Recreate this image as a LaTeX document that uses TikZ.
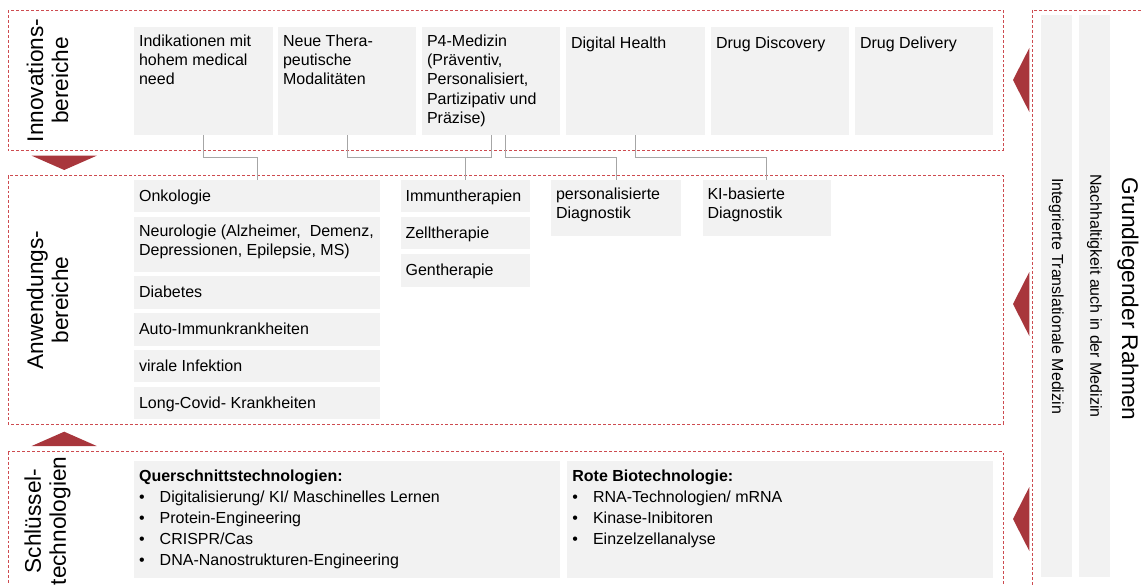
\documentclass[tikz,border=0pt]{standalone}
\usepackage{fontspec}
\setmainfont{Liberation Sans}
\usetikzlibrary{fit}

\definecolor{rotlinie}{RGB}{205,75,80}
\definecolor{rotpfeil}{RGB}{168,54,60}
\definecolor{kastengrau}{RGB}{242,242,242}
\definecolor{linie}{RGB}{166,166,166}

\newcommand{\punkt}{\makebox[15.5pt][l]{\textbullet}}

\tikzset{
  rahmen/.style={draw=rotlinie, line width=0.6pt, dash pattern=on 2.2pt off 1.5pt},
  kasten/.style={fill=kastengrau, inner sep=0pt},
  txt/.style={anchor=north west, align=left, inner xsep=3.8pt, inner ysep=5.9pt,
    font=\fontsize{12}{14.4}\selectfont, execute at begin node=\strut},
  liste/.style={txt, inner ysep=7pt, font=\fontsize{12}{15.7}\selectfont},
  titel/.style={rotate=90, align=center, font=\fontsize{17}{18.75}\selectfont},
  verb/.style={draw=linie, line width=0.75pt},
  pfeil/.style={fill=rotpfeil}
}

\begin{document}
\begin{tikzpicture}[x=0.75pt, y=-0.75pt]
    \clip (0,0) rectangle (1142,585);

    % drei Ebenen und der Rahmen rechts
    \draw[rahmen] (8,10.5) rectangle (1003,150.7);
    \draw[rahmen] (8,175.7) rectangle (1003,424);
    \draw[rahmen] (8,451.7) rectangle (1003,590);
    \draw[rahmen] (1032.3,10) rectangle (1160,600);

    \node[titel] (t-innov) at (47.5,80.5) {Innovations-\\bereiche};
    \node[titel] (t-anw) at (47.5,300) {Anwendungs-\\bereiche};
    \node[titel] (t-schl) at (47.5,521) {Schlüssel-\\technologien};

    \fill[pfeil] (31.7,155.7) -- (96.7,155.7) -- (64.2,170) -- cycle;
    \fill[pfeil] (31.7,446) -- (96.7,446) -- (64.2,431.7) -- cycle;
    \foreach \y in {80,304,519}
        \fill[pfeil] (1013,\y) -- (1029.3,\y-32) -- (1029.3,\y+32) -- cycle;

    % Innovationsbereiche
    \node[kasten, fit={(134,27) (272.5,135)}] (indik) {};
    \node[txt] (indik-t) at (indik.north west) {Indikationen mit\\hohem medical\\need};
    \node[kasten, fit={(278,27) (416,135)}] (neue) {};
    \node[txt] (neue-t) at (neue.north west) {Neue Thera-\\peutische\\Modalitäten};
    \node[kasten, fit={(422,27) (560,135)}] (pvier) {};
    \node[txt] (pvier-t) at (pvier.north west) {P4-Medizin\\(Präventiv,\\Personalisiert,\\Partizipativ und\\Präzise)};
    \node[kasten, fit={(566,27) (705,135)}] (digital) {};
    \node[txt] (digital-t) at (digital.north west) {Digital Health};
    \node[kasten, fit={(711,27) (849,135)}] (discov) {};
    \node[txt] (discov-t) at (discov.north west) {Drug Discovery};
    \node[kasten, fit={(855,27) (993,135)}] (deliv) {};
    \node[txt] (deliv-t) at (deliv.north west) {Drug Delivery};

    % Anwendungsbereiche
    \node[kasten, fit={(134,180) (380,212.3)}] (onko) {};
    \node[txt] (onko-t) at (onko.north west) {Onkologie};
    \node[kasten, fit={(134,217) (380,271.7)}] (neuro) {};
    \node[txt] (neuro-t) at (neuro.north west) {Neurologie (Alzheimer,~ Demenz,\\Depressionen, Epilepsie, MS)};
    \node[kasten, fit={(134,276.3) (380,308.7)}] (diab) {};
    \node[txt] (diab-t) at (diab.north west) {Diabetes};
    \node[kasten, fit={(134,313.3) (380,345.7)}] (auto) {};
    \node[txt] (auto-t) at (auto.north west) {Auto-Immunkrankheiten};
    \node[kasten, fit={(134,350) (380,382.3)}] (viral) {};
    \node[txt] (viral-t) at (viral.north west) {virale Infektion};
    \node[kasten, fit={(134,386.7) (380,418.7)}] (covid) {};
    \node[txt] (covid-t) at (covid.north west) {Long-Covid- Krankheiten};

    \node[kasten, fit={(400.5,180) (530,212.3)}] (immun) {};
    \node[txt] (immun-t) at (immun.north west) {Immuntherapien};
    \node[kasten, fit={(400.5,216.7) (530,249)}] (zell) {};
    \node[txt] (zell-t) at (zell.north west) {Zelltherapie};
    \node[kasten, fit={(400.5,253.7) (530,286.5)}] (gen) {};
    \node[txt] (gen-t) at (gen.north west) {Gentherapie};

    \node[kasten, fit={(551,180) (681,235.7)}] (persona) {};
    \node[txt] (persona-t) at (persona.north west) {personalisierte\\Diagnostik};
    \node[kasten, fit={(702.5,180) (831,235.7)}] (ki) {};
    \node[txt] (ki-t) at (ki.north west) {KI-basierte\\Diagnostik};

    % Verbindungen
    \draw[verb] (indik.south) -- ++(0,22.7) -| (onko.north);
    \draw[verb] (neue.south) -- ++(0,22.7) -| (immun.north);
    \draw[verb] (pvier.south) -- ++(0,22.7) -| (immun.north);
    \draw[verb] ([xshift=11pt]pvier.south) -- ++(0,22.7) -| (persona.north);
    \draw[verb] (digital.south) -- ++(0,22.7) -| (ki.north);

    % Schluesseltechnologien
    \node[kasten, fit={(134,460.5) (559.5,578)}] (quer) {};
    \node[liste] (quer-t) at (quer.north west) {\textbf{Querschnittstechnologien:}\\
        \punkt Digitalisierung/ KI/ Maschinelles Lernen\\
        \punkt Protein-Engineering\\
        \punkt CRISPR/Cas\\
        \punkt DNA-Nanostrukturen-Engineering};
    \node[kasten, fit={(567.3,460.5) (993.3,578)}] (rot) {};
    \node[liste] (rot-t) at (rot.north west) {\textbf{Rote Biotechnologie:}\\
        \punkt RNA-Technologien/ mRNA\\
        \punkt Kinase-Inibitoren\\
        \punkt Einzelzellanalyse};

    % Grundlegender Rahmen
    \node[kasten, fit={(1040.7,15) (1072,577)}] (bar1) {};
    \node[rotate=-90, font=\fontsize{12}{14.4}\selectfont] (bar1-t) at (bar1.center) {Integrierte Translationale Medizin};
    \node[kasten, fit={(1079,15) (1110,577)}] (bar2) {};
    \node[rotate=-90, font=\fontsize{12}{14.4}\selectfont] (bar2-t) at (bar2.center) {Nachhaltigkeit auch in der Medizin};
    \node[rotate=-90, anchor=base, font=\fontsize{17}{18.75}\selectfont] (grund) at (1122,299) {Grundlegender Rahmen};
\end{tikzpicture}
\end{document}
